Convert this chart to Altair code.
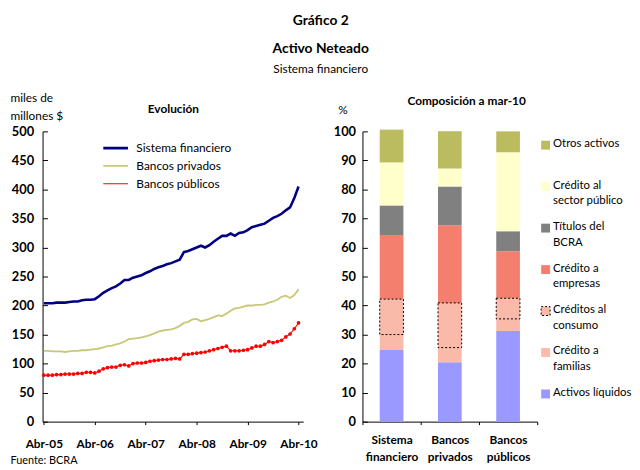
import altair as alt
import pandas as pd

FONT = "Lato"

# ---------------- Left panel data (monthly, Abr-05 .. Abr-10) ----------------
tick_labels = ["Abr-05", "Abr-06", "Abr-07", "Abr-08", "Abr-09", "Abr-10"]
series_names = ["Sistema financiero", "Bancos privados", "Bancos públicos"]
series_colors = ["#000080", "#C8C878", "#FF0000"]
series_widths = [2.6, 1.1, 1.1]

sistema = [204, 204, 204, 205, 205, 205, 206, 207, 207, 209, 210, 210, 211,
           216, 222, 226, 230, 233, 238, 244, 244, 248, 250, 252, 256,
           259, 263, 266, 268, 271, 273, 276, 279, 292, 294, 297, 300,
           303, 300, 304, 310, 315, 320, 320, 324, 320, 325, 326, 330,
           335, 337, 339, 341, 346, 351, 354, 358, 364, 369, 385, 405]
privados = [122, 122, 121, 121, 121, 120, 121, 122, 122, 123, 123, 124, 125,
            126, 128, 130, 131, 133, 135, 138, 142, 143, 144, 145, 147,
            149, 152, 155, 157, 158, 159, 161, 165, 170, 172, 176, 177,
            173, 175, 177, 180, 183, 182, 186, 191, 195, 196, 198, 200,
            200, 201, 201, 202, 205, 207, 210, 215, 217, 213, 218, 228]
publicos = [80, 80, 80, 81, 81, 82, 82, 82, 83, 83, 85, 85, 84,
            87, 91, 93, 94, 94, 97, 98, 96, 100, 101, 101, 102,
            104, 105, 106, 107, 107, 108, 109, 108, 116, 116, 117, 118,
            119, 120, 122, 124, 126, 128, 130, 122, 122, 122, 123, 124,
            127, 130, 130, 133, 138, 136, 138, 140, 146, 151, 160, 170]

# ---------------- Right panel data (composición a mar-10, %) ----------------
bank_labels = ["Sistema financiero", "Bancos privados", "Bancos públicos"]
components = ["Activos líquidos", "Crédito a familias", "Crédito a empresas",
              "Títulos del BCRA", "Crédito al sector público", "Otros activos"]
comp_colors = ["#9999FF", "#F9BAAA", "#F47F6F", "#808080", "#FFFFCC", "#BBBB60"]
liquidos = [24.7, 20.5, 31.2]
familias = [17.5, 20.4, 11.3]
empresas = [22.1, 26.8, 16.2]
titulos = [10.2, 13.3, 6.9]
sector_publico = [14.8, 6.2, 27.2]
otros = [11.3, 12.8, 7.2]
consumo = [12.2, 15.4, 7.1]   # part of "Crédito a familias" (dotted box)

legend_labels = ["Otros activos", "Crédito al\nsector público", "Títulos del\nBCRA",
                 "Crédito a\nempresas", "Créditos al\nconsumo", "Crédito a\nfamilias",
                 "Activos líquidos"]
legend_colors = ["#BBBB60", "#FFFFCC", "#808080", "#F47F6F", "#F9BAAA", "#F9BAAA", "#9999FF"]
legend_dotted = [False, False, False, False, True, False, False]

# ---------------- Build tables ----------------
rows = []
for name, vals in zip(series_names, [sistema, privados, publicos]):
    for i, v in enumerate(vals):
        rows.append({"idx": i, "serie": name, "value": v})
df_lines = pd.DataFrame(rows)
df_pub = df_lines[df_lines["serie"] == "Bancos públicos"]

brows = []
comp_vals = [liquidos, familias, empresas, titulos, sector_publico, otros]
for b, bank in enumerate(bank_labels):
    for k, comp in enumerate(components):
        brows.append({"bank": bank, "component": comp, "value": comp_vals[k][b], "order": k})
df_bars = pd.DataFrame(brows)

df_box = pd.DataFrame({
    "bank": bank_labels,
    "hi": [liquidos[i] + familias[i] for i in range(3)],
    "lo": [liquidos[i] + familias[i] - consumo[i] for i in range(3)],
})

df_leg = pd.DataFrame({"idx": list(range(len(legend_labels))), "label": legend_labels,
                       "color": legend_colors, "dotted": legend_dotted})

# ---------------- Left panel ----------------
W1, H = 264, 294
label_expr = "[" + ",".join("'%s'" % t for t in tick_labels) + "][datum.value / 12]"
xscale1 = alt.Scale(domain=[-0.3, 61.1], nice=False, zero=False)
yscale1 = alt.Scale(domain=[0, 500], nice=False)
yvals1 = list(range(0, 501, 50))

line_legend = alt.Legend(orient="none", legendX=60, legendY=8, title=None,
                         symbolType="stroke", symbolSize=625, labelFontSize=12,
                         labelOffset=7, clipHeight=18, rowPadding=0, padding=0)

lines = alt.Chart(df_lines).mark_line().encode(
    x=alt.X("idx:Q", scale=xscale1,
            axis=alt.Axis(values=[0, 12, 24, 36, 48, 60], labelExpr=label_expr,
                          labelFontSize=12, labelFontWeight="bold", labelPadding=14,
                          tickSize=3, grid=False, labelFlush=False,
                          title="Fuente: BCRA", titleX=-33, titleY=42, titleAlign="left",
                          titleBaseline="alphabetic", titleFontSize=11,
                          titleFontWeight="normal")),
    y=alt.Y("value:Q", scale=yscale1,
            axis=alt.Axis(values=yvals1, ticks=False, tickSize=0, labelPadding=9,
                          labelFontSize=13, labelFontWeight="bold", grid=False,
                          title=["miles de", "millones $"], titleAngle=0, titleAlign="left",
                          titleBaseline="alphabetic", titleX=-33, titleY=-30,
                          titleFontSize=12, titleFontWeight="normal", titleLineHeight=18)),
    color=alt.Color("serie:N", scale=alt.Scale(domain=series_names, range=series_colors),
                    legend=line_legend),
    strokeWidth=alt.StrokeWidth("serie:N", scale=alt.Scale(domain=series_names, range=series_widths),
                                legend=line_legend),
)

points = alt.Chart(df_pub).mark_point(filled=True, size=14, color="#FF0000", opacity=1).encode(
    x=alt.X("idx:Q", scale=xscale1,
            axis=alt.Axis(orient="top", labels=False, ticks=False, domain=False, grid=False,
                          title="Evolución", titleX=W1 / 2, titleY=-19, titleAlign="center",
                          titleBaseline="alphabetic", titleFontSize=12, titleFontWeight="bold")),
    y=alt.Y("value:Q", scale=yscale1,
            axis=alt.Axis(orient="right", offset=-W1, values=yvals1, labels=False, domain=False,
                          tickSize=5, grid=False, title=None)),
)

left = alt.layer(lines, points).resolve_axis(x="independent", y="independent").properties(
    width=W1, height=H)

# ---------------- Right panel ----------------
W2 = 177
yscale2 = alt.Scale(domain=[0, 100], nice=False)
yvals2 = list(range(0, 101, 10))
xscale2 = alt.Scale(domain=bank_labels, paddingInner=0, paddingOuter=0)

bars = alt.Chart(df_bars).mark_bar(size=24).encode(
    x=alt.X("bank:N", scale=xscale2,
            axis=alt.Axis(labelExpr="split(datum.label, ' ')", labelAngle=0, labelFontSize=12,
                          labelFontWeight="bold", labelLineHeight=17, labelPadding=10,
                          tickBand="extent", tickSize=3, title=None, grid=False)),
    y=alt.Y("value:Q", stack="zero", scale=yscale2,
            axis=alt.Axis(values=yvals2, ticks=False, tickSize=0, labelPadding=7,
                          labelFontSize=13, labelFontWeight="bold", grid=False,
                          title="%", titleAngle=0, titleAlign="left", titleBaseline="alphabetic",
                          titleX=-25, titleY=-18, titleFontSize=12, titleFontWeight="normal")),
    color=alt.Color("component:N", scale=alt.Scale(domain=components, range=comp_colors),
                    legend=None),
    order=alt.Order("order:Q", sort="ascending"),
)

boxes = alt.Chart(df_box).mark_bar(size=24, fillOpacity=0, stroke="black", strokeWidth=1,
                                   strokeDash=[2, 2]).encode(
    x=alt.X("bank:N", scale=xscale2,
            axis=alt.Axis(orient="top", labels=False, ticks=False, domain=False, grid=False,
                          title="Composición a mar-10", titleX=105, titleY=-27,
                          titleAlign="center", titleBaseline="alphabetic", titleFontSize=12,
                          titleFontWeight="bold")),
    y=alt.Y("lo:Q", scale=yscale2,
            axis=alt.Axis(orient="right", offset=-W2, values=yvals2, labels=False, domain=False,
                          tickSize=5, grid=False, title=None)),
    y2="hi:Q",
)

right = alt.layer(bars, boxes).resolve_axis(x="independent", y="independent").properties(
    width=W2, height=H)

# ---------------- Right legend panel ----------------
yleg = alt.Y("idx:Q", scale=alt.Scale(domain=[-0.333, 6.667], reverse=True, nice=False, zero=False),
             axis=None)
leg_sq = alt.Chart(df_leg).mark_square(size=81, opacity=1).encode(
    x=alt.value(4.5), y=yleg, color=alt.Color("color:N", scale=None))
leg_dot = alt.Chart(df_leg).transform_filter("datum.dotted").mark_square(
    size=81, filled=False, color="black", strokeWidth=1, strokeDash=[2, 2], opacity=1).encode(
    x=alt.value(4.5), y=yleg)
leg_txt = alt.Chart(df_leg).mark_text(align="left", baseline="top", dy=-7, lineBreak="\n",
                                      lineHeight=16, fontSize=11.5, color="black").encode(
    x=alt.value(12), y=yleg, text="label:N")
legend_panel = alt.layer(leg_sq, leg_dot, leg_txt).properties(width=66, height=H)

# ---------------- Compose ----------------
chart = alt.hconcat(
    left,
    alt.hconcat(right, legend_panel, spacing=4, bounds="flush"),
    spacing=60, bounds="flush",
).resolve_scale(color="independent", strokeWidth="independent").properties(
    title=alt.Title(["Gráfico 2", "Activo Neteado"], subtitle="Sistema financiero",
                    fontSize=14, fontWeight="bold", lineHeight=29, subtitleFontSize=12,
                    subtitleFontWeight="normal", subtitlePadding=8, offset=17,
                    anchor="middle", frame="bounds", color="black", subtitleColor="black"),
    padding={"left": 2, "right": 0, "top": 3, "bottom": 0},
).configure(font=FONT).configure_view(stroke=None).configure_axis(
    labelColor="black", titleColor="black", domainColor="black", tickColor="black",
    labelFont=FONT, titleFont=FONT
).configure_legend(labelColor="black", labelFont=FONT)

chart.save("out.html", embed_options={"renderer": "svg", "actions": False})
